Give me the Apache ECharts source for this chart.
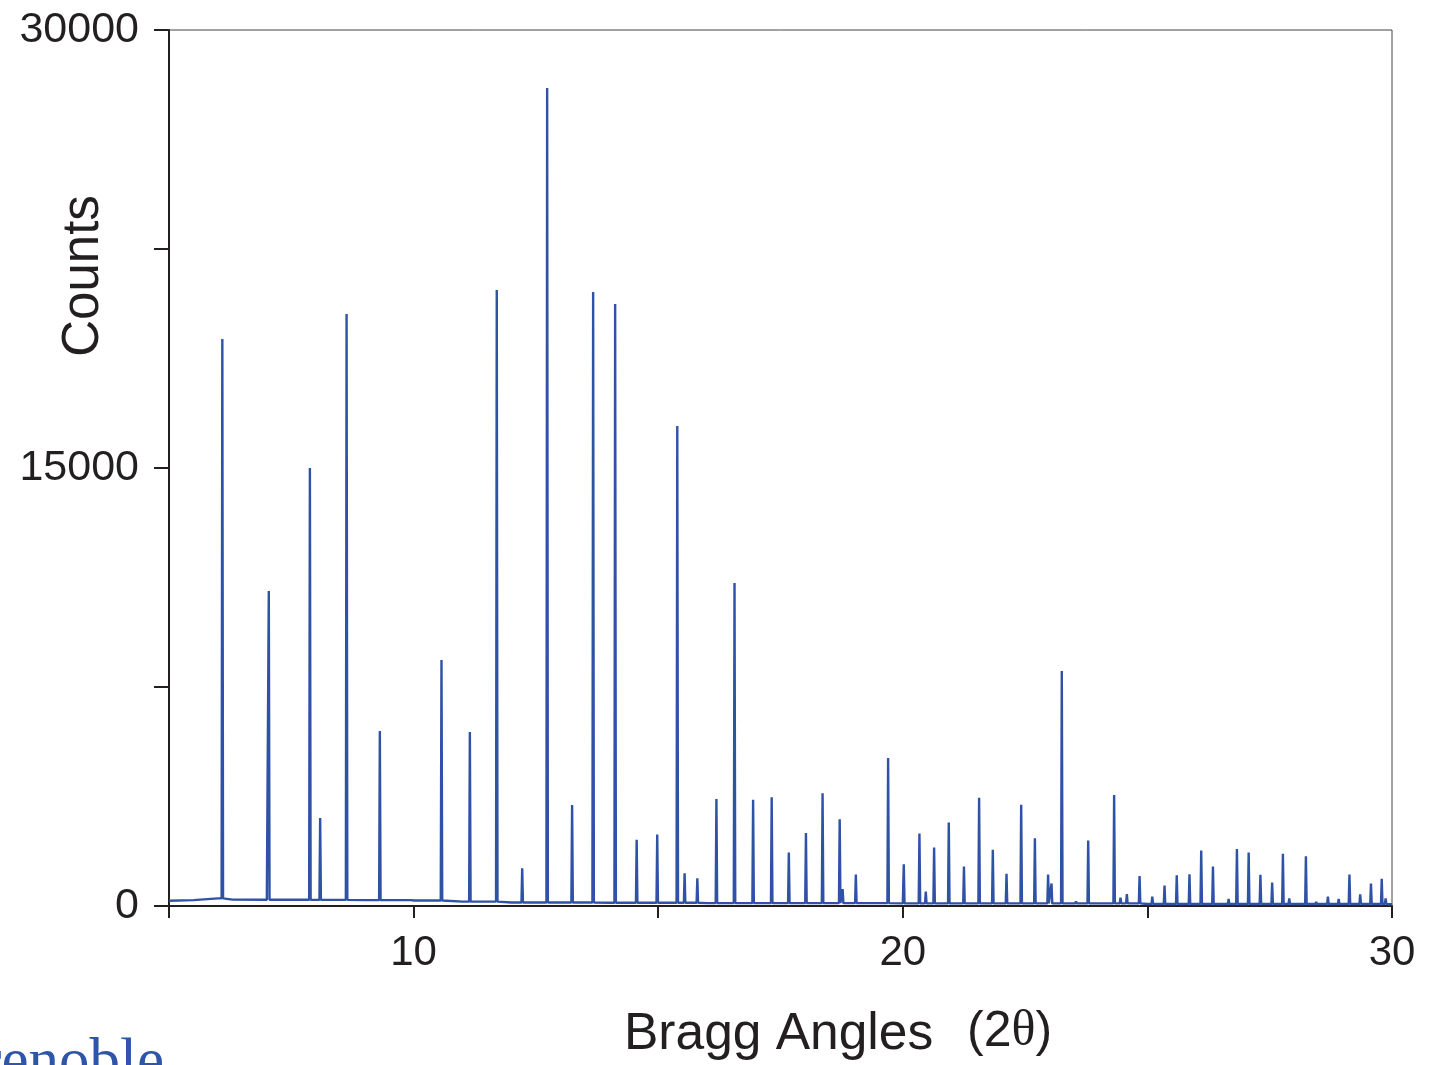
<!DOCTYPE html>
<html>
<head>
<meta charset="utf-8">
<script src="https://cdn.jsdelivr.net/npm/echarts@6/dist/echarts.min.js"></script>
<style>
html, body { margin: 0; padding: 0; background: #fff; }
#chart { width: 1429px; height: 1065px; }
</style>
</head>
<body>
<div id="chart"></div>
<script>
// background level of the pattern, [2theta, counts]
var background = [
	[5.0, 180], [5.5, 200], [6.0, 260], [6.3, 220], [7.0, 215], [8.0, 210],
	[9.0, 200], [10.0, 190], [11.0, 150], [12.0, 120], [14.0, 110], [16.0, 100],
	[20.0, 90], [25.0, 70], [30.0, 60]
];

// reflections
var peakPos = [
	6.09, 7.04, 7.88, 8.09, 8.63, 9.31, 9.97, 10.57, 11.15, 11.70,
	12.22, 12.73, 13.24, 13.67, 14.12, 14.56, 14.98, 15.39, 15.54, 15.80,
	16.19, 16.56, 16.94, 17.32, 17.67, 18.02, 18.36, 18.71, 18.77, 19.04,
	19.70, 20.02, 20.34, 20.47, 20.64, 20.94, 21.25, 21.56, 21.84, 22.12,
	22.42, 22.70, 22.97, 23.04, 23.25, 23.54, 23.79, 24.32, 24.45, 24.58,
	24.84, 25.10, 25.35, 25.60, 25.86, 26.10, 26.34, 26.66, 26.83, 27.07,
	27.31, 27.55, 27.77, 27.90, 28.24, 28.45, 28.69, 28.91, 29.13, 29.35,
	29.57, 29.79, 29.87
];
var peakCounts = [
	19420, 10790, 15000, 3010, 20270, 5990, 250, 8425, 5960, 21100,
	1290, 28010, 3460, 21030, 20620, 2270, 2450, 16440, 1120, 950,
	3660, 11060, 3640, 3720, 1830, 2500, 3860, 2970, 580, 1080,
	5070, 1430, 2480, 490, 2000, 2860, 1350, 3710, 1930, 1100,
	3470, 2320, 1080, 770, 8050, 160, 2240, 3800, 290, 410,
	1030, 320, 700, 1050, 1090, 1900, 1350, 240, 1950, 1830,
	1070, 800, 1790, 260, 1700, 140, 320, 240, 1080, 400,
	770, 930, 260
];

var xTickLabels = ['10', '20', '30'];
var yTickLabels = ['0', '15000', '30000'];

function bgAt(x) {
	var v = background[0][1];
	for (var i = 0; i < background.length; i++) {
		if (background[i][0] <= x) v = background[i][1];
	}
	return v;
}

var pts = background.slice();
var hw = 0.015;
for (var i = 0; i < peakPos.length; i++) {
	var b = bgAt(peakPos[i]);
	pts.push([peakPos[i] - hw, b]);
	pts.push([peakPos[i], peakCounts[i]]);
	pts.push([peakPos[i] + hw, b]);
}
pts.sort(function(a, b) { return a[0] - b[0]; });

var blue = '#2f52a6';
var ink = '#231f20';
var chart = echarts.init(document.getElementById('chart'));
chart.setOption({
	animation: false,
	backgroundColor: '#fff',
	grid: {
		left: 169, right: 37, top: 30, bottom: 159,
		show: true, borderColor: '#444', borderWidth: 1
	},
	xAxis: {
		type: 'value', min: 5, max: 30, interval: 5,
		axisLine: { show: true, onZero: false, lineStyle: { color: ink, width: 2 } },
		axisTick: { show: true, length: 12, lineStyle: { color: ink, width: 2 } },
		axisLabel: {
			margin: 26, color: ink, fontSize: 42, fontFamily: 'Liberation Sans',
			formatter: function(v) {
				var s = String(v);
				return xTickLabels.indexOf(s) > -1 ? s : '';
			}
		},
		splitLine: { show: false }
	},
	yAxis: {
		type: 'value', min: 0, max: 30000, interval: 7500,
		axisLine: { show: true, lineStyle: { color: ink, width: 2 } },
		axisTick: { show: true, length: 15, lineStyle: { color: ink, width: 2 } },
		axisLabel: {
			margin: 30, color: ink, fontSize: 43, fontFamily: 'Liberation Sans',
			formatter: function(v) {
				var s = String(v);
				return yTickLabels.indexOf(s) > -1 ? s : '';
			}
		},
		splitLine: { show: false }
	},
	series: [{
		type: 'line',
		data: pts,
		showSymbol: false,
		sampling: 'none',
		lineStyle: { color: blue, width: 2.4 },
		z: 1
	}],
	graphic: [
		{
			type: 'text', x: 84, y: 276, rotation: Math.PI / 2,
			style: {
				text: 'Counts', fill: ink, font: '51px "Liberation Sans"',
				align: 'center', verticalAlign: 'middle'
			}
		},
		{
			type: 'text', x: 624, y: 1035,
			style: {
				text: 'Bragg Angles', fill: ink, font: '51.5px "Liberation Sans"',
				verticalAlign: 'middle'
			}
		},
		{
			type: 'text', x: 967, y: 1032,
			style: {
				text: '{a|(2}{b|θ}{a|)}',
				verticalAlign: 'middle',
				rich: {
					a: { fontSize: 50, fontFamily: 'Liberation Sans', fill: ink },
					b: { fontSize: 50, fontFamily: 'Liberation Serif', fill: ink }
				}
			}
		},
		{
			type: 'text', x: 164, y: 1094,
			style: {
				text: 'Grenoble', fill: '#2f55a8', font: '61px "Liberation Serif"',
				align: 'right', verticalAlign: 'bottom'
			}
		}
	]
});
</script>
</body>
</html>
